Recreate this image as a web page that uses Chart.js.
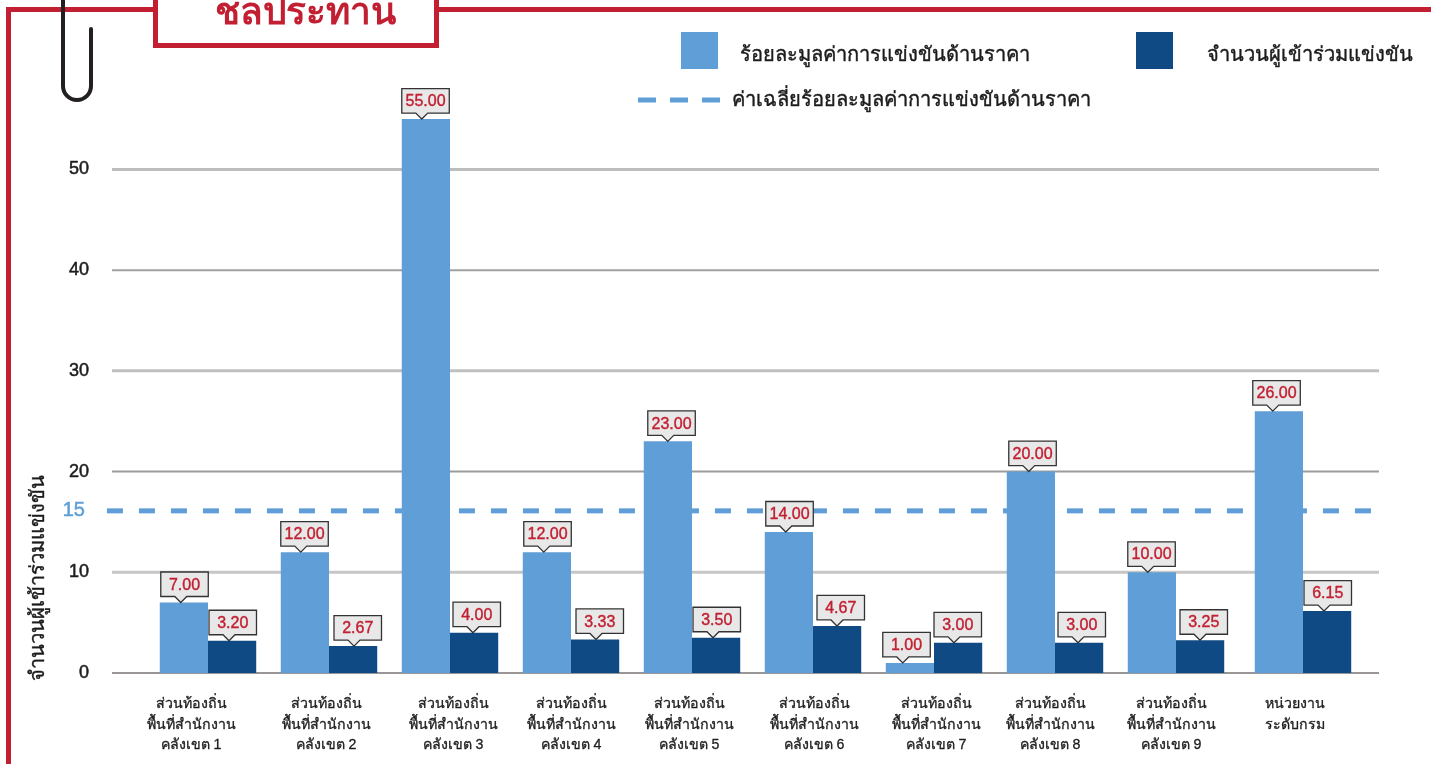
<!DOCTYPE html>
<html><head><meta charset="utf-8">
<style>html,body{margin:0;padding:0;background:#fff;overflow:hidden}#wrap{width:1431px;height:764px;position:relative}</style>
<script src="https://cdn.jsdelivr.net/npm/chart.js@4"></script>
</head><body><div id="wrap"><canvas id="c" width="1431" height="764"></canvas></div>
<script>
const categories=[
 ["ส่วนท้องถิ่น","พื้นที่สำนักงาน","คลังเขต 1"],["ส่วนท้องถิ่น","พื้นที่สำนักงาน","คลังเขต 2"],
 ["ส่วนท้องถิ่น","พื้นที่สำนักงาน","คลังเขต 3"],["ส่วนท้องถิ่น","พื้นที่สำนักงาน","คลังเขต 4"],
 ["ส่วนท้องถิ่น","พื้นที่สำนักงาน","คลังเขต 5"],["ส่วนท้องถิ่น","พื้นที่สำนักงาน","คลังเขต 6"],
 ["ส่วนท้องถิ่น","พื้นที่สำนักงาน","คลังเขต 7"],["ส่วนท้องถิ่น","พื้นที่สำนักงาน","คลังเขต 8"],
 ["ส่วนท้องถิ่น","พื้นที่สำนักงาน","คลังเขต 9"],["หน่วยงาน","ระดับกรม"]];
const priceSaving=[7,12,55,12,23,14,1,20,10,26];
const participants=[3.2,2.67,4,3.33,3.5,4.67,3,3,3.25,6.15];
// the reference draws its "15" average line slightly above the true scale position
const averagePlotted=[16.1,16.1];
const averageSpan=[-0.835,9.64];
const yTicks=[0,10,16.1,20,30,40,50];
const yTickLabels=["0","10","15\u2009","20","30","40","50"];
const seriesNames=["ร้อยละมูลค่าการแข่งขันด้านราคา","จำนวนผู้เข้าร่วมแข่งขัน","ค่าเฉลี่ยร้อยละมูลค่าการแข่งขันด้านราคา"];
const yTitle="จำนวนผู้เข้าร่วมแข่งขัน";
const heading="ชลประทาน";

const FONT="'Liberation Sans','Noto Sans',sans-serif";
const LIGHT="#5f9ed6",DARK="#0f4a84",RED="#c22032",INK="#1c1c1c";
const labelNudge=[-17,-3,3,0,-3,1,2,-5,-5,-2];
const lastGroupShift=6;
const lightBoxNudge=[1,0,0,1,4,1,-3,2,0,-2];
const darkBoxNudge=[1,5,3,5,1,4,0,3,4,1];
const gridStyle={0:["#9a9696",2],10:["#c6c6c6",3],20:["#9c9c9c",2],30:["#c0c0c0",3],40:["#a0a0a0",2],50:["#bdbdbd",3]};

const decor={id:'decor',
 afterDatasetsUpdate(ch){
  ch.data.datasets.forEach((d,i)=>{ if(d.type==='bar'){const el=ch.getDatasetMeta(i).data[9]; if(el) el.x+=lastGroupShift;}});
 },
 beforeDatasetsDraw(ch){
  const {ctx,scales:{y}}=ch; ctx.save();
  Object.keys(gridStyle).forEach(v=>{const [col,w]=gridStyle[v];const p=y.getPixelForValue(+v);
   ctx.strokeStyle=col;ctx.lineWidth=w;ctx.beginPath();ctx.moveTo(112,p);ctx.lineTo(1379,p);ctx.stroke();});
  ctx.restore();
 },
 afterDatasetsDraw(ch){
  const ctx=ch.ctx;ctx.save();
  [[0,lightBoxNudge],[1,darkBoxNudge]].forEach(([di,nudge])=>{
   const meta=ch.getDatasetMeta(di),vals=ch.data.datasets[di].data;
   meta.data.forEach((b,i)=>{
    const L=b.x-b.width/2+nudge[i],W=47.5,H=24.5,B=b.y-6,T=B-H,tip=L+20;
    ctx.beginPath();ctx.moveTo(L,T);ctx.lineTo(L+W,T);ctx.lineTo(L+W,B);ctx.lineTo(tip+6,B);ctx.lineTo(tip,b.y);ctx.lineTo(tip-6,B);ctx.lineTo(L,B);ctx.closePath();
    ctx.fillStyle="#e8e8e8";ctx.fill();ctx.strokeStyle="#333";ctx.lineWidth=1.3;ctx.stroke();
    ctx.fillStyle=RED;ctx.strokeStyle=RED;ctx.lineWidth=0.4;ctx.font="400 16px "+FONT;ctx.textAlign="center";ctx.textBaseline="middle";
    const s=vals[i].toFixed(2);ctx.fillText(s,L+W/2,T+H/2+1);ctx.strokeText(s,L+W/2,T+H/2+1);
   });
  });
  // frame
  ctx.fillStyle=RED;ctx.fillRect(6,7,1425,5);ctx.fillRect(6,7,5,757);
  ctx.fillStyle="#fff";ctx.fillRect(155,0,283,46);
  ctx.strokeStyle=RED;ctx.lineWidth=5;ctx.strokeRect(155.5,-10,281,55.5);
  ctx.save();ctx.beginPath();ctx.rect(158,0,277,42);ctx.clip();
  ctx.fillStyle=RED;ctx.font="700 37px "+FONT;ctx.textAlign="center";ctx.textBaseline="alphabetic";ctx.fillText(heading,305,24);ctx.restore();
  // paper clip
  ctx.strokeStyle="#231f20";ctx.lineWidth=4;ctx.lineCap="round";ctx.beginPath();
  ctx.moveTo(63,0);ctx.lineTo(63,86);ctx.arc(77,86,14,Math.PI,0,true);ctx.lineTo(91,29);ctx.stroke();
  // legend
  ctx.fillStyle=LIGHT;ctx.fillRect(681,32,37,37);ctx.fillStyle=DARK;ctx.fillRect(1136,32,37,37);
  ctx.strokeStyle=LIGHT;ctx.lineWidth=5;ctx.lineCap="butt";
  ctx.setLineDash([18,14]);ctx.beginPath();ctx.moveTo(638,100);ctx.lineTo(720,100);ctx.stroke();ctx.setLineDash([]);
  ctx.fillStyle=INK;ctx.strokeStyle=INK;ctx.lineWidth=0.4;ctx.font="400 20.1px "+FONT;ctx.textAlign="left";ctx.textBaseline="middle";
  [[0,740,55],[1,1207,55],[2,732,100]].forEach(([n,x,y])=>{ctx.fillText(seriesNames[n],x,y);ctx.strokeText(seriesNames[n],x,y);});
  // y title
  ctx.save();ctx.translate(38,578);ctx.rotate(-Math.PI/2);ctx.textAlign="center";ctx.font="400 20.1px "+FONT;ctx.fillText(yTitle,0,0);ctx.strokeText(yTitle,0,0);ctx.restore();
  ctx.restore();
 }};

const CAT_PCT=0.846;
new Chart(document.getElementById('c'),{
 data:{labels:categories,datasets:[
  {type:'bar',label:seriesNames[0],data:priceSaving,backgroundColor:LIGHT,order:1,categoryPercentage:CAT_PCT,barPercentage:1},
  {type:'bar',label:seriesNames[1],data:participants,backgroundColor:DARK,order:1,categoryPercentage:CAT_PCT,barPercentage:1},
  {type:'line',label:seriesNames[2],parsing:false,normalized:true,data:averageSpan.map((x,i)=>({x,y:averagePlotted[i]})),borderColor:LIGHT,borderWidth:5,borderDash:[16,16],pointRadius:0,clip:false,order:5}
 ]},
 plugins:[decor],
 options:{responsive:false,animation:false,
  layout:{padding:{left:0,top:109,right:73.5,bottom:0}},
  plugins:{legend:{display:false},tooltip:{enabled:false},title:{display:false}},
  scales:{
   x:{type:'category',offset:true,grid:{display:false},border:{display:false},
      afterFit(s){s.height=91;},
      afterUpdate(s){ if(!s.__n){s.__n=1;const base=s.getPixelForTick;s.getPixelForTick=i=>base.call(s,i)+labelNudge[i];} },
      ticks:{color:INK,maxRotation:0,autoSkip:false,padding:13,textStrokeColor:INK,textStrokeWidth:0.3,font:{family:FONT,size:14.2,lineHeight:1.44}}},
   y:{type:'linear',min:0,max:56,grid:{display:false,drawTicks:false},border:{display:false},
      afterFit(s){s.width=147.5;},
      afterBuildTicks(s){s.ticks=yTicks.map(v=>({value:v}));},
      ticks:{padding:58.5,callback:(v)=>yTickLabels[yTicks.indexOf(v)],
        color:c=>c.tick&&c.tick.value===yTicks[2]?LIGHT:INK,
        textStrokeColor:c=>c.tick&&c.tick.value===yTicks[2]?LIGHT:INK,textStrokeWidth:0.5,
        font:c=>({family:FONT,size:c.tick&&c.tick.value===yTicks[2]?20:18})}}
  }}
});
</script></body></html>
